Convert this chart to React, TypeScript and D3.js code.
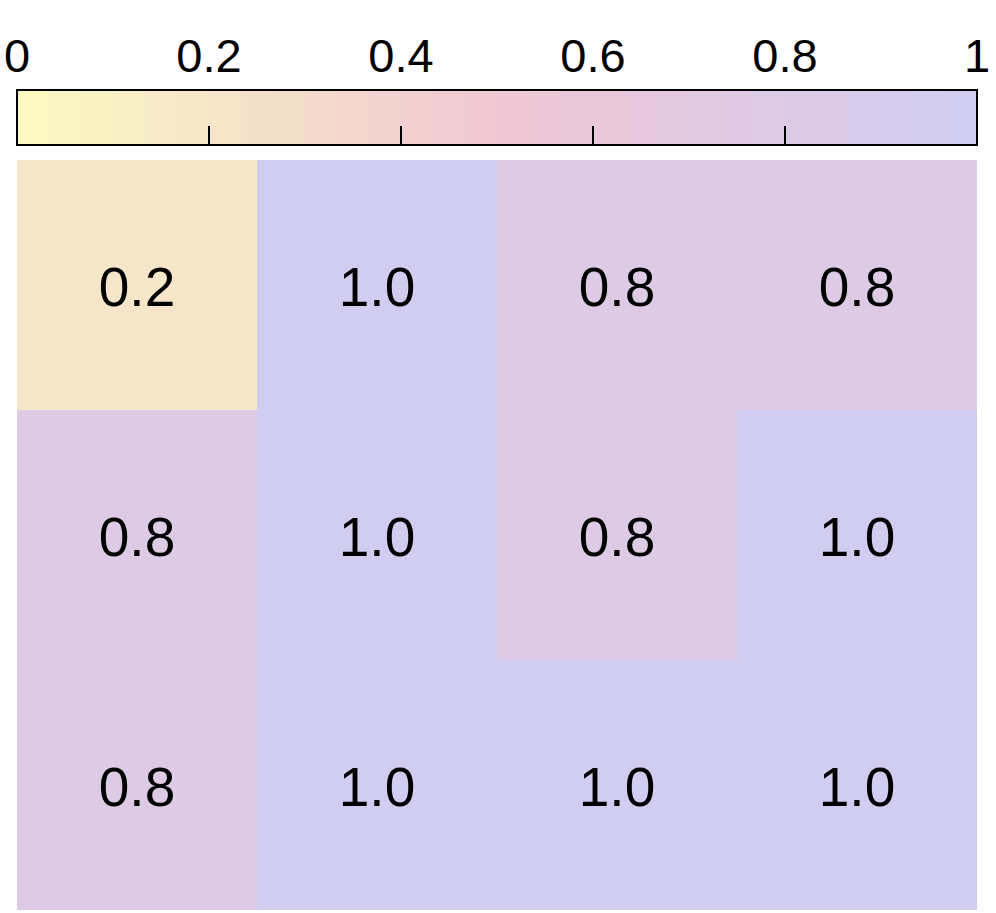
import React from "react";
import * as d3 from "d3";

const rowLabels = ["r1", "r2", "r3"];
const colLabels = ["c1", "c2", "c3", "c4"];
const values: number[][] = [
  [0.2, 1.0, 0.8, 0.8],
  [0.8, 1.0, 0.8, 1.0],
  [0.8, 1.0, 1.0, 1.0],
];
const tickValues = [0, 0.2, 0.4, 0.6, 0.8, 1];
const tickLabels = ["0", "0.2", "0.4", "0.6", "0.8", "1"];
const paletteStops = ["#FAFAC2", "#F0C7D4", "#D1CDF1"];
const nBins = 30;

export default function App() {
  const W = 996, H = 913;
  const left = 17, right = 977;
  const barTop = 90, barBot = 145;
  const gridTop = 160, gridBot = 910;

  const color = d3.scaleLinear<string>().domain([0, 0.5, 1]).range(paletteStops).interpolate(d3.interpolateRgb);
  const xBar = d3.scaleLinear().domain([0, 1]).range([left, right]);
  const x = d3.scaleBand().domain(colLabels).range([left, right]);
  const y = d3.scaleBand().domain(rowLabels).range([gridTop, gridBot]);
  const bins = d3.range(nBins);
  const fmt = d3.format(".1f");

  return (
    <svg width={W} height={H} style={{ position: "absolute", left: 0, top: 0 }} fontFamily="Liberation Sans, Arial, sans-serif">
      {bins.map((i) => (
        <rect key={i} x={xBar(i / nBins)} y={barTop} width={xBar(1 / nBins) - xBar(0) + 0.5} height={barBot - barTop} fill={color(i / (nBins - 1))} />
      ))}
      <rect x={left} y={barTop} width={right - left} height={barBot - barTop} fill="none" stroke="#000" strokeWidth={2} />
      {tickValues.map((t, i) => (
        <g key={t}>
          {i > 0 && i < tickValues.length - 1 && (
            <line x1={xBar(t)} x2={xBar(t)} y1={barBot} y2={barBot - 19} stroke="#000" strokeWidth={2} />
          )}
          <text x={xBar(t)} y={72} textAnchor="middle" fontSize={47} fill="#000">{tickLabels[i]}</text>
        </g>
      ))}
      {values.map((row, r) =>
        row.map((v, c) => (
          <g key={`${r}-${c}`}>
            <rect x={x(colLabels[c])!} y={y(rowLabels[r])!} width={x.bandwidth()} height={y.bandwidth()} fill={color(v)} />
            <text x={x(colLabels[c])! + x.bandwidth() / 2} y={y(rowLabels[r])! + y.bandwidth() / 2 + 21} textAnchor="middle" fontSize={55} fill="#000">{fmt(v)}</text>
          </g>
        ))
      )}
    </svg>
  );
}
